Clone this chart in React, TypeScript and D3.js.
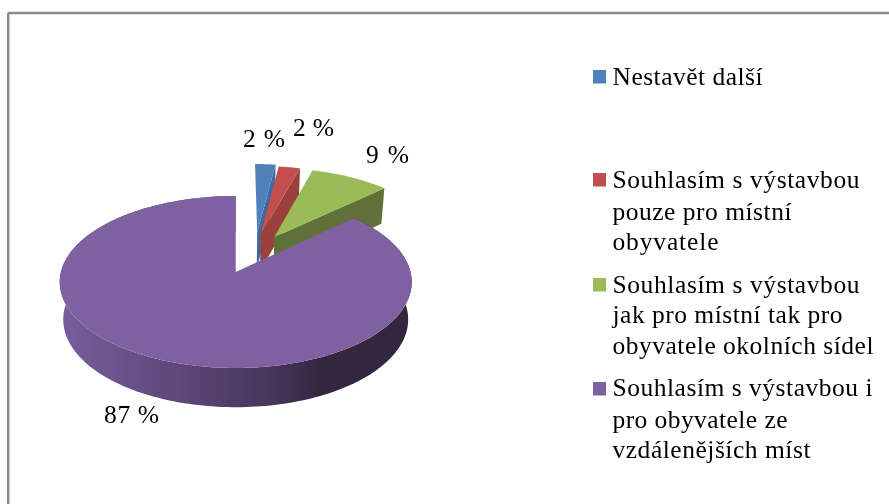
import React from "react";
import * as d3 from "d3";

// ---- data ----
const categories = [
  "Nestavět další",
  "Souhlasím s výstavbou pouze pro místní obyvatele",
  "Souhlasím s výstavbou jak pro místní tak pro obyvatele okolních sídel",
  "Souhlasím s výstavbou i pro obyvatele ze vzdálenějších míst",
];
const values = [2.2, 2.3, 8.5, 87];
const valueLabels = ["2 %", "2 %", "9 %", "87 %"];
const legendLines = [
  ["Nestavět další"],
  ["Souhlasím s výstavbou", "pouze pro místní", "obyvatele"],
  ["Souhlasím s výstavbou", "jak pro místní tak pro", "obyvatele okolních sídel"],
  ["Souhlasím s výstavbou i", "pro obyvatele ze", "vzdálenějších míst"],
];

// ---- styles and layout ----
const W = 889;
const H = 504;
const topColors = ["#4f81bd", "#c0504d", "#9bbb59", "#7f61a0"];
const wallColors = ["#3f6b9f", "#9a3f3c", "#5f7138", "#4c3a63"];
const explode = [
  [0.13, 0.495],
  [0.15, 0.465],
  [0.232, 0.433],
  [0, 0],
];
const labelPos = [
  { x: 243, y: 147, w: 42 },
  { x: 293, y: 136, w: 41 },
  { x: 366, y: 163, w: 43 },
  { x: 104, y: 423, w: 55 },
];
const legendY = [
  [85],
  [188, 220, 250],
  [293, 323, 354],
  [396, 428, 458],
];
const legendW = [[150], [247, 179, 106], [247, 230, 261], [260, 175, 198]];
const swatchY = [70, 173, 278, 382];
const serif = "'Liberation Serif', serif";

// plane-to-screen perspective mapping of the pie disc
const apexX = 235.7;
const apexY = 272;
const kPersp = 0.1163;
const xScale = d3.scaleLinear().domain([0, 1]).range([apexX, apexX + 174.8]);
const yScale = d3.scaleLinear().domain([0, 1]).range([apexY, apexY - 84.8]);
type P = [number, number];
const project = (X: number, Y: number): P => {
  const w = 1 + kPersp * Y;
  return [xScale(X / w), yScale(Y / w)];
};
const drop = ([x, y]: P): P => [
  apexX + (x - apexX) * 0.98,
  y + 37.3 + (y - apexY) * 0.02,
];

const arcs = d3.pie<number>().sort(null).startAngle(0).endAngle(2 * Math.PI)(values);
const line = d3.line<P>().curve(d3.curveLinear);

function rim(i: number, a0: number, a1: number): P[] {
  const [ox, oy] = explode[i];
  const n = Math.max(4, Math.ceil(Math.abs(a1 - a0) * 40));
  return d3.range(n + 1).map((j) => {
    const t = a0 + ((a1 - a0) * j) / n;
    return project(ox + Math.sin(t), oy + Math.cos(t));
  });
}

export default function App() {
  const slices = arcs.map((a, i) => {
    const centre = project(explode[i][0], explode[i][1]);
    const outer = rim(i, a.startAngle, a.endAngle);
    const top = line([centre, ...outer])! + "Z";
    const end = outer[outer.length - 1];
    const cutWall = line([centre, end, drop(end), drop(centre)])! + "Z";
    const sideWall = line([...outer, ...outer.map(drop).reverse()])! + "Z";
    return { top, cutWall, sideWall, i };
  });

  return (
    <svg
      width={W}
      height={H}
      viewBox={`0 0 ${W} ${H}`}
      style={{ position: "fixed", left: 0, top: 0, background: "#fff" }}
    >
      <defs>
        <linearGradient id="wall" gradientUnits="userSpaceOnUse" x1={62} x2={408} y1={0} y2={0}>
          <stop offset="0" stopColor="#785d9b" />
          <stop offset="0.35" stopColor="#5c4778" />
          <stop offset="0.6" stopColor="#46365c" />
          <stop offset="0.75" stopColor="#34273f" />
          <stop offset="1" stopColor="#352840" />
        </linearGradient>
        <filter id="soft" x="-5%" y="-5%" width="110%" height="110%">
          <feGaussianBlur stdDeviation="0.45" />
        </filter>
      </defs>

      <g stroke="#8a8a8a" strokeWidth={2.5} fill="none">
        <line x1={8.2} y1={13} x2={W} y2={13} />
        <line x1={8.2} y1={13} x2={8.2} y2={H} />
      </g>

      <g filter="url(#soft)" aria-label={categories.join("; ")}>
        {slices.map((s) =>
          s.i < 3 ? (
            <g key={s.i}>
              <path d={s.cutWall} fill={wallColors[s.i]} />
              <path d={s.top} fill={topColors[s.i]} />
            </g>
          ) : (
            <g key={s.i}>
              <path d={s.sideWall} fill="url(#wall)" />
              <path d={s.top} fill={topColors[s.i]} />
            </g>
          )
        )}
      </g>

      <g fontFamily={serif} fontSize={25.5} fill="#000" filter="url(#soft)">
        {valueLabels.map((t, i) => (
          <text
            key={i}
            x={labelPos[i].x}
            y={labelPos[i].y}
            textLength={labelPos[i].w}
            lengthAdjust="spacing"
          >
            {t}
          </text>
        ))}
        {legendLines.map((lines, i) =>
          lines.map((t, j) => (
            <text
              key={`${i}-${j}`}
              x={612.5}
              y={legendY[i][j]}
              textLength={legendW[i][j]}
              lengthAdjust="spacing"
            >
              {t}
            </text>
          ))
        )}
      </g>

      <g filter="url(#soft)">
        {swatchY.map((y, i) => (
          <rect key={i} x={593} y={y} width={13} height={13.5} fill={topColors[i]} />
        ))}
      </g>
    </svg>
  );
}
